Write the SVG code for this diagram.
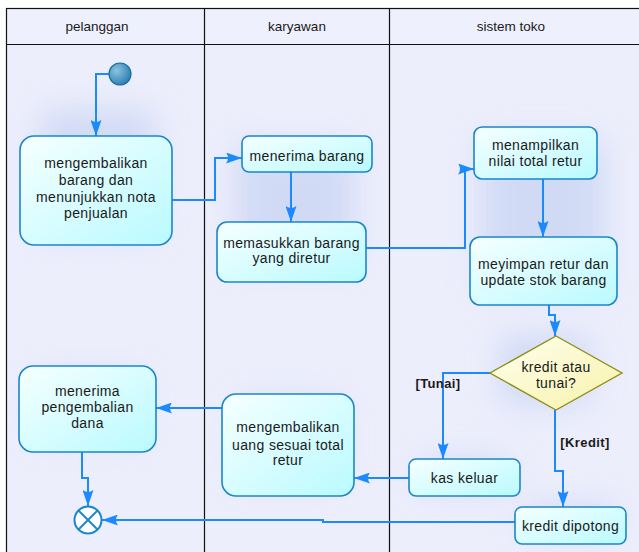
<svg xmlns="http://www.w3.org/2000/svg" width="639" height="552" viewBox="0 0 639 552">
<defs>
<style>
.lane{fill:#EDEEFC;stroke:none}
.grid{fill:none;stroke:#111;stroke-width:1.2}
.box{fill:url(#bg);stroke:#1B87C6;stroke-width:1.6}
.t{font-family:"Liberation Sans",Arial,sans-serif;font-size:14px;letter-spacing:0.35px;fill:#1a1a1a;text-anchor:middle}
.h{font-family:"Liberation Sans",Arial,sans-serif;font-size:13.5px;fill:#1a1a1a;text-anchor:middle}
.g{font-family:"Liberation Sans",Arial,sans-serif;font-size:13px;font-weight:bold;letter-spacing:0.4px;fill:#1a1a1a;text-anchor:middle}
.c{fill:none;stroke:#1C8AFF;stroke-width:2;marker-end:url(#ah)}
.glow{fill:#C7D4F3}
</style>
<linearGradient id="bg" x1="0" y1="0" x2="1" y2="1">
<stop offset="0" stop-color="#F6FFFF"/>
<stop offset="1" stop-color="#B9FAFF"/>
</linearGradient>
<linearGradient id="dg" x1="0" y1="0" x2="1" y2="1">
<stop offset="0" stop-color="#FFFFF0"/>
<stop offset="1" stop-color="#F7F2A8"/>
</linearGradient>
<radialGradient id="sg" cx="0.35" cy="0.35" r="0.7">
<stop offset="0" stop-color="#8CC3E0"/>
<stop offset="1" stop-color="#2A7FB0"/>
</radialGradient>
<filter id="blur" x="-50%" y="-50%" width="200%" height="200%">
<feGaussianBlur stdDeviation="16"/>
</filter>
<marker id="ah" viewBox="0 0 16 11" refX="16" refY="5.5" markerWidth="16" markerHeight="11" markerUnits="userSpaceOnUse" orient="auto">
<path d="M0,0 L16,5.5 L0,11 Q4,5.5 0,0 z" fill="#1C8AFF"/>
</marker>
</defs>
<g id="swimlanes">
<rect class="lane" x="6" y="8" width="640" height="550"/>
<g filter="url(#blur)" opacity="0.75">
<rect class="glow" x="40" y="110" width="115" height="125"/>
<rect class="glow" x="235" y="145" width="120" height="120"/>
<rect class="glow" x="480" y="140" width="125" height="150"/>
<rect class="glow" x="500" y="335" width="90" height="70"/>
<rect class="glow" x="40" y="375" width="100" height="65"/>
<rect class="glow" x="240" y="400" width="100" height="80"/>
<rect class="glow" x="420" y="460" width="90" height="30"/>
<rect class="glow" x="525" y="505" width="90" height="30"/>
</g>
<rect x="6.5" y="8.5" width="640" height="36" fill="#EEF0FD" stroke="none"/>
<rect class="grid" x="6.5" y="8.5" width="640" height="550"/>
<line class="grid" x1="6" y1="44.5" x2="640" y2="44.5"/>
<line class="grid" x1="204.5" y1="8" x2="204.5" y2="552"/>
<line class="grid" x1="389.5" y1="8" x2="389.5" y2="552"/>
<text class="h" x="97" y="31">pelanggan</text>
<text class="h" x="297" y="31">karyawan</text>
<text class="h" x="511" y="31">sistem toko</text>
</g>
<g id="connectors">
<path class="c" d="M109,74 H96 V136"/>
<path class="c" d="M172,200 H215 V158 H242"/>
<path class="c" d="M291,172 V222"/>
<path class="c" d="M366,248 H465 V169 H474"/>
<path class="c" d="M543,179 V237"/>
<path class="c" d="M549,305 V315 H555 V336"/>
<path class="c" d="M490,373 H443 V459"/>
<path class="c" d="M555,410 V471 H563 V507"/>
<path class="c" d="M409,478 H354"/>
<path class="c" d="M222,408 H156"/>
<path class="c" d="M82,452 V478 H88 V506"/>
<path class="c" d="M515,522 H323 V520 H102"/>
<text class="g" x="438" y="388">[Tunai]</text>
<text class="g" x="585" y="447">[Kredit]</text>
</g>
<g id="start">
<circle cx="120" cy="74" r="11" fill="url(#sg)" stroke="#1A6FA3" stroke-width="1.2"/>
</g>
<g id="mengembalikan-barang">
<rect class="box" x="20" y="136" width="152" height="109" rx="14"/>
<text class="t" x="96" y="168">mengembalikan</text>
<text class="t" x="96" y="185">barang dan</text>
<text class="t" x="96" y="202">menunjukkan nota</text>
<text class="t" x="96" y="218">penjualan</text>
</g>
<g id="menerima-barang">
<rect class="box" x="242" y="136" width="130" height="36" rx="7"/>
<text class="t" x="307" y="161">menerima barang</text>
</g>
<g id="memasukkan-barang">
<rect class="box" x="217" y="222" width="149" height="60" rx="10"/>
<text class="t" x="291.5" y="248">memasukkan barang</text>
<text class="t" x="291.5" y="263">yang diretur</text>
</g>
<g id="menampilkan">
<rect class="box" x="474" y="127" width="123" height="52" rx="8"/>
<text class="t" x="535.5" y="150">menampilkan</text>
<text class="t" x="535.5" y="166">nilai total retur</text>
</g>
<g id="menyimpan">
<rect class="box" x="470" y="237" width="147" height="68" rx="10"/>
<text class="t" x="543.5" y="269">meyimpan retur dan</text>
<text class="t" x="543.5" y="285">update stok barang</text>
</g>
<g id="decision">
<polygon points="556,336 622,373 556,410 490,373" fill="url(#dg)" stroke="#8F8F1A" stroke-width="1.4"/>
<text class="t" x="556" y="372">kredit atau</text>
<text class="t" x="556" y="388">tunai?</text>
</g>
<g id="kas-keluar">
<rect class="box" x="409" y="459" width="111" height="37" rx="7"/>
<text class="t" x="464.5" y="483">kas keluar</text>
</g>
<g id="kredit-dipotong">
<rect class="box" x="515" y="507" width="111" height="37" rx="7"/>
<text class="t" x="570.5" y="531">kredit dipotong</text>
</g>
<g id="mengembalikan-uang">
<rect class="box" x="222" y="394" width="132" height="102" rx="14"/>
<text class="t" x="288" y="432">mengembalikan</text>
<text class="t" x="288" y="450">uang sesuai total</text>
<text class="t" x="288" y="465">retur</text>
</g>
<g id="menerima-dana">
<rect class="box" x="19" y="366" width="137" height="86" rx="14"/>
<text class="t" x="87.5" y="396">menerima</text>
<text class="t" x="87.5" y="412">pengembalian</text>
<text class="t" x="87.5" y="428">dana</text>
</g>
<g id="end">
<circle cx="88" cy="520" r="13.5" fill="#FFFFFF" stroke="#1B87C6" stroke-width="2"/>
<line x1="78.5" y1="510.5" x2="97.5" y2="529.5" stroke="#1B87C6" stroke-width="2"/>
<line x1="97.5" y1="510.5" x2="78.5" y2="529.5" stroke="#1B87C6" stroke-width="2"/>
</g>
</svg>
